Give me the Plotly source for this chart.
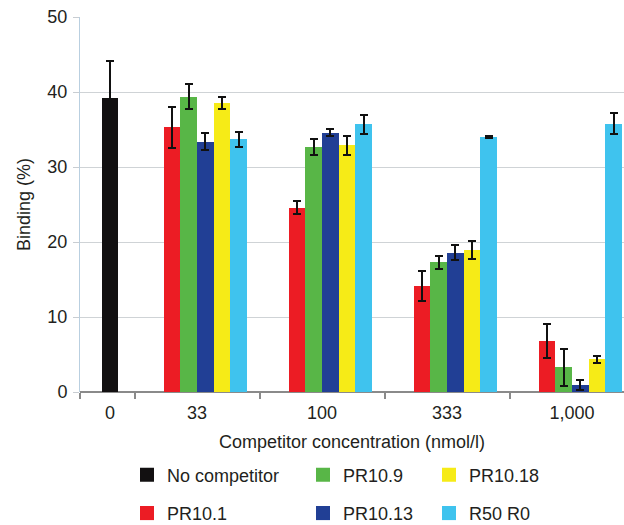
import plotly.graph_objects as go

categories = ["0", "33", "100", "333", "1,000"]
series_names = ["No competitor", "PR10.1", "PR10.9", "PR10.13", "PR10.18", "R50 R0"]

no_competitor = [39.2]
no_competitor_err = [5.0]
pr10_1 = [35.3, 24.6, 14.2, 6.8]
pr10_1_err = [2.7, 0.9, 2.0, 2.3]
pr10_9 = [39.4, 32.7, 17.3, 3.3]
pr10_9_err = [1.65, 1.05, 0.85, 2.45]
pr10_13 = [33.4, 34.6, 18.6, 0.9]
pr10_13_err = [1.1, 0.5, 0.95, 0.65]
pr10_18 = [38.5, 32.9, 18.9, 4.35]
pr10_18_err = [0.8, 1.3, 1.2, 0.45]
r50_r0 = [33.7, 35.7, 34.0, 35.8]
r50_r0_err = [1.0, 1.3, 0.15, 1.35]

y_ticks = [0, 10, 20, 30, 40, 50]

colors = ["#121011", "#ec1c24", "#58b647", "#213f95", "#f6eb17", "#3fc3ee"]

# ---- layout geometry (category units) ----
W = 0.133            # bar width
X_LEFT, X_RIGHT = 0.064, 4.416
ZERO_CENTER = 0.304  # the "0" category is narrower
centers = [ZERO_CENTER, 1, 2, 3, 4]
boundaries = [X_LEFT, 0.5, 1.5, 2.5, 3.5]

fig = go.Figure()

vals = [pr10_1, pr10_9, pr10_13, pr10_18, r50_r0]
errs = [pr10_1_err, pr10_9_err, pr10_13_err, pr10_18_err, r50_r0_err]

def add_bar(x, y, e, color, name):
    fig.add_trace(go.Bar(
        x=x, y=y, width=[W] * len(x), name=name, showlegend=False,
        marker=dict(color=color, line=dict(width=0)),
        error_y=dict(type="data", array=e, visible=True, color="#111111",
                     thickness=2, width=4),
    ))

add_bar([centers[0]], no_competitor, no_competitor_err, colors[0], series_names[0])
for j, (v, e) in enumerate(zip(vals, errs), start=1):
    xs = [c + (j - 2.5) * W for c in centers[1:]]
    add_bar(xs, v, e, colors[j], series_names[j])

# legend entries (three columns of two)
legend_ids = ["legend", "legend", "legend2", "legend2", "legend3", "legend3"]
for i in range(6):
    fig.add_trace(go.Scatter(
        x=[None], y=[None], mode="markers", name=series_names[i],
        marker=dict(symbol="square", size=14, color=colors[i]),
        legend=legend_ids[i], legendgroup=series_names[i], showlegend=True,
    ))

font_family = "Liberation Sans, Arial, Helvetica, sans-serif"
txt = "#231f20"

legend_common = dict(
    orientation="v", yref="paper", yanchor="top", y=-0.172,
    xref="paper", xanchor="left", font=dict(size=18, color=txt, family=font_family),
    tracegroupgap=12, bgcolor="rgba(0,0,0,0)", itemclick=False,
)

fig.update_layout(
    width=624, height=525,
    margin=dict(l=80, r=0, t=17, b=133, autoexpand=False),
    paper_bgcolor="white", plot_bgcolor="white",
    font=dict(family=font_family, size=18, color=txt),
    barmode="overlay", bargap=0,
    xaxis=dict(
        range=[X_LEFT, X_RIGHT], tickmode="array", tickvals=centers,
        ticktext=categories, ticks="", showgrid=False, zeroline=False,
        showline=False, automargin=False, ticklabelstandoff=8,
        tickfont=dict(size=18),
        title=dict(text="Competitor concentration (nmol/l)", standoff=13,
                   font=dict(size=18)),
    ),
    xaxis2=dict(
        overlaying="x", matches="x", side="bottom", range=[X_LEFT, X_RIGHT],
        tickmode="array", tickvals=boundaries, showticklabels=False,
        ticks="outside", ticklen=6, tickwidth=1.5, tickcolor="#8a8a8a",
        showgrid=False, zeroline=False, showline=False, automargin=False,
    ),
    yaxis=dict(
        range=[0, 50], tickmode="array", tickvals=y_ticks,
        ticks="outside", ticklen=6, tickwidth=1, tickcolor="#c8cdd2",
        showgrid=True, gridcolor="#cfd3d6", gridwidth=1.2,
        zeroline=True, zerolinecolor="#8a8a8a", zerolinewidth=2,
        showline=True, linecolor="#b9cfe0", linewidth=1, automargin=False,
        tickfont=dict(size=18), ticklabelstandoff=2,
        title=dict(text="Binding (%)", standoff=12, font=dict(size=18)),
    ),
    legend=dict(legend_common, x=(127 - 80) / 544),
    legend2=dict(legend_common, x=(303 - 80) / 544),
    legend3=dict(legend_common, x=(429 - 80) / 544),
)

# dummy trace on xaxis2 so the overlay axis renders its tick marks
fig.add_trace(go.Scatter(x=[None], y=[None], xaxis="x2", showlegend=False))

fig.write_html("out.html", config={"displayModeBar": False},
               post_script="document.body.style.margin='0';document.body.style.overflow='hidden';")
